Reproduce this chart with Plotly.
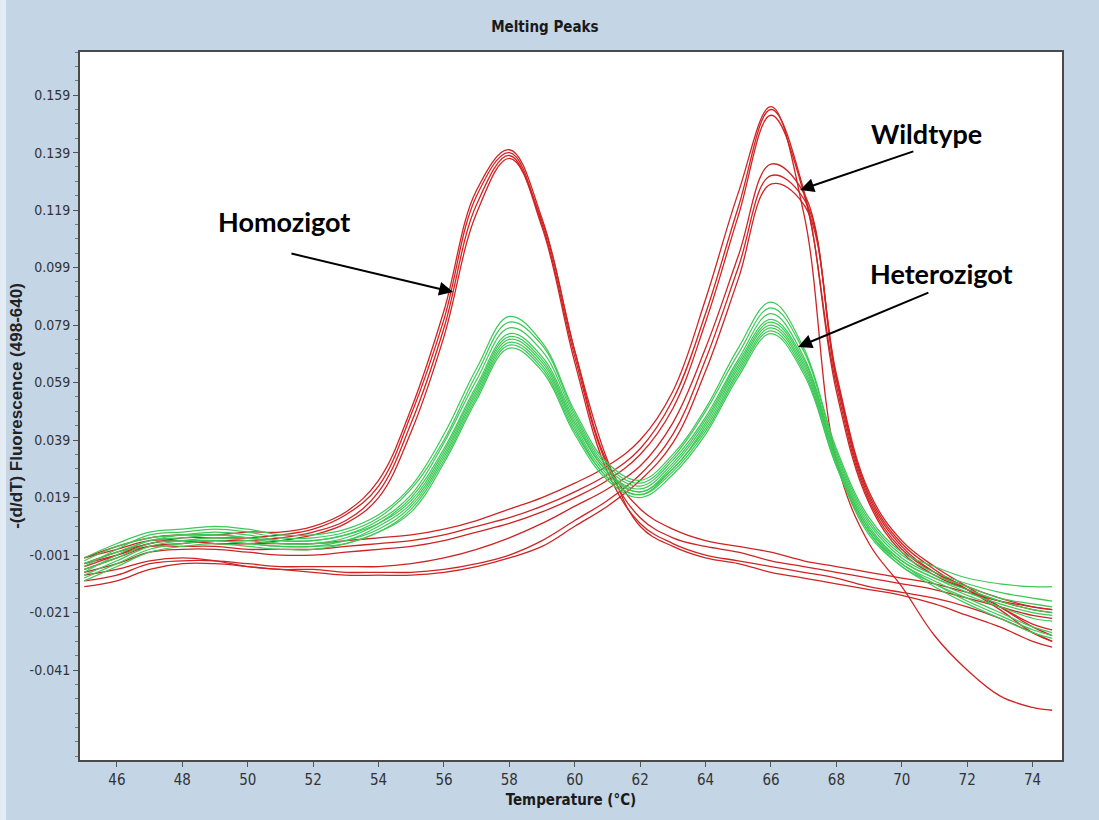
import plotly.graph_objects as go

# Temperature grid (°C)
temperature = [45, 46, 47, 48, 49, 50, 51, 52, 53, 54, 55, 56, 57, 58, 59, 60,
               61, 62, 63, 64, 65, 66, 67, 68, 69, 70, 71, 72, 73, 74, 74.6]

# Homozygote curves (red, single peak ~58 °C)
homo_1 = [-0.002, 0.002, 0.005, 0.006, 0.006, 0.007, 0.007, 0.009, 0.014, 0.025, 0.050, 0.084, 0.126, 0.140, 0.116, 0.070,
          0.031, 0.015, 0.008, 0.004, 0.002, 0.000, -0.003, -0.005, -0.007, -0.009, -0.011, -0.014, -0.017, -0.019, -0.020]
homo_2 = [-0.004, 0.000, 0.003, 0.005, 0.005, 0.005, 0.006, 0.008, 0.013, 0.023, 0.048, 0.081, 0.124, 0.139, 0.114, 0.068,
          0.030, 0.012, 0.005, 0.002, 0.000, -0.003, -0.005, -0.007, -0.009, -0.011, -0.013, -0.016, -0.019, -0.022, -0.023]
homo_3 = [-0.006, -0.002, 0.002, 0.003, 0.004, 0.004, 0.005, 0.007, 0.011, 0.021, 0.045, 0.078, 0.121, 0.138, 0.113, 0.066,
          0.028, 0.010, 0.003, -0.001, -0.003, -0.005, -0.007, -0.009, -0.012, -0.014, -0.016, -0.019, -0.023, -0.028, -0.031]
homo_4 = [-0.005, -0.001, 0.003, 0.004, 0.003, 0.003, 0.004, 0.006, 0.010, 0.019, 0.042, 0.075, 0.118, 0.137, 0.115, 0.070,
          0.032, 0.009, 0.002, -0.002, -0.004, -0.007, -0.009, -0.011, -0.013, -0.015, -0.018, -0.022, -0.026, -0.031, -0.033]

# Wildtype curves (red, single peak ~66 °C)
wt_1 = [-0.002, 0.001, 0.004, 0.004, 0.003, 0.003, 0.003, 0.003, 0.004, 0.005, 0.006, 0.008, 0.011, 0.015, 0.019, 0.024,
        0.030, 0.039, 0.056, 0.088, 0.125, 0.155, 0.118, 0.032, 0.003, -0.012, -0.029, -0.041, -0.050, -0.054, -0.055]
wt_2 = [-0.004, -0.001, 0.002, 0.002, 0.002, 0.001, 0.001, 0.001, 0.002, 0.003, 0.004, 0.006, 0.009, 0.012, 0.016, 0.021,
        0.027, 0.036, 0.053, 0.083, 0.120, 0.154, 0.126, 0.056, 0.017, 0.000, -0.008, -0.013, -0.017, -0.020, -0.021]
wt_3 = [-0.007, -0.004, 0.000, 0.001, 0.001, 0.000, -0.001, -0.001, 0.000, 0.001, 0.002, 0.004, 0.007, 0.010, 0.014, 0.019,
        0.025, 0.034, 0.050, 0.080, 0.117, 0.152, 0.125, 0.058, 0.018, 0.001, -0.007, -0.012, -0.016, -0.019, -0.020]
wt_4 = [-0.010, -0.008, -0.004, -0.003, -0.003, -0.004, -0.005, -0.005, -0.005, -0.005, -0.004, -0.002, 0.001, 0.005, 0.010, 0.016,
        0.022, 0.030, 0.045, 0.071, 0.103, 0.135, 0.125, 0.060, 0.019, 0.002, -0.007, -0.013, -0.019, -0.025, -0.027]
wt_5 = [-0.012, -0.010, -0.006, -0.004, -0.004, -0.005, -0.006, -0.006, -0.007, -0.007, -0.007, -0.006, -0.004, -0.001, 0.004, 0.011,
        0.018, 0.027, 0.041, 0.067, 0.099, 0.131, 0.123, 0.061, 0.020, 0.003, -0.006, -0.013, -0.020, -0.028, -0.031]
wt_6 = [-0.008, -0.006, -0.003, -0.002, -0.003, -0.005, -0.006, -0.007, -0.008, -0.008, -0.008, -0.007, -0.005, -0.002, 0.002, 0.009,
        0.016, 0.025, 0.038, 0.063, 0.095, 0.128, 0.121, 0.062, 0.021, 0.004, -0.005, -0.012, -0.019, -0.026, -0.029]

# Heterozygote curves (green, two peaks ~58 and ~66 °C)
het_1 = [-0.002, 0.003, 0.007, 0.008, 0.009, 0.008, 0.006, 0.006, 0.008, 0.013, 0.023, 0.041, 0.064, 0.082, 0.073, 0.049,
         0.031, 0.025, 0.034, 0.050, 0.071, 0.087, 0.071, 0.036, 0.012, 0.000, -0.005, -0.009, -0.011, -0.012, -0.012]
het_2 = [-0.005, 0.001, 0.006, 0.007, 0.008, 0.007, 0.005, 0.005, 0.007, 0.012, 0.022, 0.039, 0.062, 0.080, 0.072, 0.048,
         0.030, 0.024, 0.033, 0.049, 0.069, 0.085, 0.070, 0.035, 0.011, -0.001, -0.007, -0.011, -0.014, -0.016, -0.017]
het_3 = [-0.003, 0.002, 0.005, 0.006, 0.007, 0.006, 0.004, 0.004, 0.006, 0.011, 0.020, 0.038, 0.060, 0.078, 0.070, 0.047,
         0.029, 0.023, 0.032, 0.047, 0.067, 0.083, 0.068, 0.034, 0.010, -0.002, -0.008, -0.012, -0.016, -0.018, -0.019]
het_4 = [-0.007, -0.001, 0.004, 0.005, 0.006, 0.005, 0.003, 0.003, 0.005, 0.010, 0.019, 0.036, 0.058, 0.076, 0.068, 0.046,
         0.028, 0.022, 0.031, 0.046, 0.066, 0.081, 0.067, 0.033, 0.009, -0.003, -0.009, -0.013, -0.017, -0.020, -0.021]
het_5 = [-0.004, 0.000, 0.004, 0.006, 0.006, 0.005, 0.004, 0.004, 0.006, 0.010, 0.018, 0.035, 0.057, 0.075, 0.067, 0.045,
         0.028, 0.021, 0.030, 0.045, 0.065, 0.080, 0.066, 0.032, 0.008, -0.003, -0.009, -0.014, -0.018, -0.021, -0.022]
het_6 = [-0.008, -0.003, 0.002, 0.004, 0.005, 0.004, 0.003, 0.003, 0.004, 0.009, 0.017, 0.034, 0.056, 0.074, 0.066, 0.044,
         0.027, 0.021, 0.029, 0.044, 0.064, 0.079, 0.065, 0.032, 0.008, -0.004, -0.010, -0.015, -0.019, -0.023, -0.024]
het_7 = [-0.006, -0.002, 0.003, 0.004, 0.004, 0.003, 0.002, 0.002, 0.004, 0.008, 0.016, 0.033, 0.055, 0.073, 0.065, 0.043,
         0.026, 0.020, 0.029, 0.043, 0.063, 0.078, 0.064, 0.031, 0.007, -0.004, -0.011, -0.016, -0.021, -0.026, -0.028]
het_8 = [-0.009, -0.004, 0.001, 0.003, 0.004, 0.003, 0.002, 0.002, 0.003, 0.007, 0.015, 0.032, 0.054, 0.072, 0.064, 0.042,
         0.026, 0.020, 0.028, 0.042, 0.062, 0.077, 0.063, 0.030, 0.007, -0.005, -0.011, -0.017, -0.022, -0.027, -0.029]
het_9 = [-0.010, -0.005, 0.000, 0.002, 0.003, 0.002, 0.001, 0.001, 0.003, 0.007, 0.014, 0.031, 0.053, 0.071, 0.063, 0.041,
         0.025, 0.019, 0.027, 0.041, 0.061, 0.076, 0.062, 0.030, 0.006, -0.005, -0.012, -0.018, -0.023, -0.028, -0.030]

homozygote = [homo_1, homo_2, homo_3, homo_4]
wildtype = [wt_1, wt_2, wt_3, wt_4, wt_5, wt_6]
heterozygote = [het_1, het_2, het_3, het_4, het_5, het_6, het_7, het_8, het_9]

x_ticks = [46, 48, 50, 52, 54, 56, 58, 60, 62, 64, 66, 68, 70, 72, 74]
y_ticks = [-0.041, -0.021, -0.001, 0.019, 0.039, 0.059, 0.079, 0.099, 0.119, 0.139, 0.159]
y_tick_text = ["-0.041", "-0.021", "-0.001", "0.019", "0.039", "0.059", "0.079", "0.099", "0.119", "0.139", "0.159"]

RED = "rgb(206,36,36)"
GREEN = "rgb(60,200,86)"

fig = go.Figure()
for ys in homozygote + wildtype:
    fig.add_trace(go.Scatter(x=temperature, y=ys, mode="lines",
                             line=dict(color=RED, width=1.3, shape="spline", smoothing=1.1),
                             showlegend=False, hoverinfo="skip"))
for ys in heterozygote:
    fig.add_trace(go.Scatter(x=temperature, y=ys, mode="lines",
                             line=dict(color=GREEN, width=1.2, shape="spline", smoothing=1.1),
                             showlegend=False, hoverinfo="skip"))

narrow = "DejaVu Sans Condensed, Liberation Sans Narrow, sans-serif"

fig.update_layout(
    width=1093, height=820,
    margin=dict(l=74, r=37, t=52, b=60),
    paper_bgcolor="#c4d5e6",
    plot_bgcolor="#ffffff",
    title=dict(text="<b>Melting Peaks</b>", x=0.493, xref="container", xanchor="center",
               y=0.967, yref="container", yanchor="middle",
               font=dict(family=narrow, size=15, color="#1a1a1a")),
    xaxis=dict(range=[44.87, 74.9], tickmode="array", tickvals=x_ticks,
               ticks="outside", ticklen=5, tickcolor="#555", tickwidth=1,
               showgrid=False, zeroline=False, automargin=False,
               showline=True, linecolor="#4a4a4a", linewidth=2, mirror=True,
               tickfont=dict(family=narrow, size=15, color="#333"),
               title=dict(text="<b>Temperature (°C)</b>", standoff=6,
                          font=dict(family=narrow, size=15, color="#1a1a1a"))),
    yaxis=dict(range=[-0.0723, 0.174], tickmode="array", tickvals=y_ticks, ticktext=y_tick_text,
               ticks="outside", ticklen=5, tickcolor="#555", tickwidth=1,
               minor=dict(tickmode="linear", tick0=-0.041, dtick=0.005, ticks="outside",
                          ticklen=3, tickcolor="#777", showgrid=False),
               showgrid=False, zeroline=False, automargin=False,
               showline=True, linecolor="#4a4a4a", linewidth=2, mirror=True,
               tickfont=dict(family=narrow, size=14, color="#333"),
               title=dict(text="<b>-(d/dT) Fluorescence (498-640)</b>", standoff=3,
                          font=dict(family="Liberation Sans, Arial, sans-serif", size=17, color="#222"))),
)

label_font = dict(family="Lato, Open Sans, sans-serif", size=27, color="#000")

# Text labels
fig.add_annotation(x=51.11, y=0.1149, xref="x", yref="y", text="<b>Homozigot</b>",
                   showarrow=False, font=label_font)
fig.add_annotation(x=70.77, y=0.1458, xref="x", yref="y", text="<b>Wildtype</b>",
                   showarrow=False, font=label_font)
fig.add_annotation(x=71.23, y=0.0971, xref="x", yref="y", text="<b>Heterozigot</b>",
                   showarrow=False, font=label_font)

# Arrows
arrows = [
    (56.28, 0.0905, 51.29, 0.104),
    (66.89, 0.126, 70.40, 0.1396),
    (66.83, 0.0714, 70.86, 0.0905),
]
for hx, hy, tx, ty in arrows:
    fig.add_annotation(x=hx, y=hy, ax=tx, ay=ty, xref="x", yref="y", axref="x", ayref="y",
                       text="", showarrow=True, arrowhead=2, arrowsize=1.4, arrowwidth=2,
                       arrowcolor="#000")

fig.write_html("out.html",
               post_script="document.body.style.margin='0px 0px 0px 6px';document.body.style.background='#e4ecf3';")
